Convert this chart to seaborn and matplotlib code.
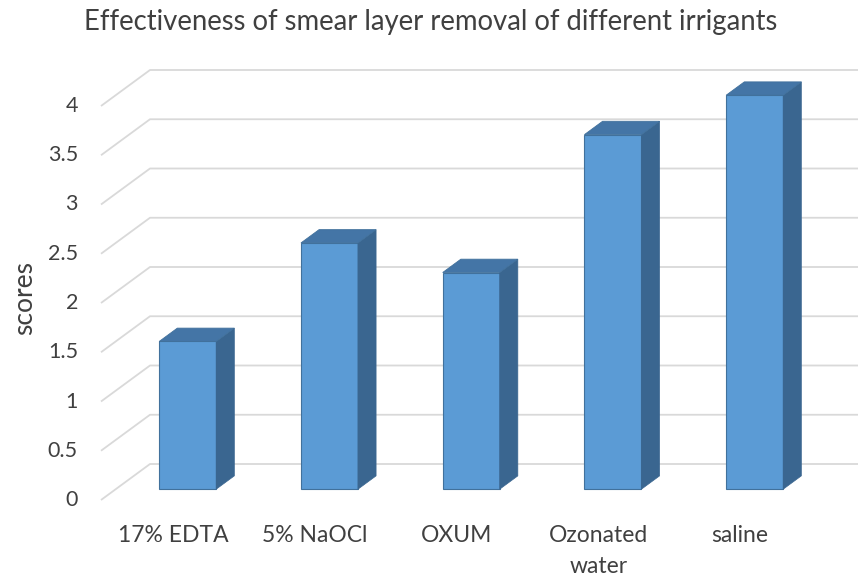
import matplotlib
matplotlib.use("Agg")
import matplotlib.pyplot as plt
import seaborn as sns
import numpy as np
from matplotlib.patches import Polygon

# ---- data ----
categories = ["17% EDTA", "5% NaOCl", "OXUM", "Ozonated\nwater", "saline"]
scores = [1.5, 2.5, 2.2, 3.6, 4.0]
y_ticks = [0, 0.5, 1, 1.5, 2, 2.5, 3, 3.5, 4]
y_tick_labels = ["0", "0.5", "1", "1.5", "2", "2.5", "3", "3.5", "4"]
title = "Effectiveness of smear layer removal of different irrigants"
ylabel = "scores"

# ---- style ----
sns.set_theme(style="white")
plt.rcParams["font.family"] = ["Lato", "DejaVu Sans"]

FRONT = "#5B9BD5"
SIDE = "#3A6690"
TOP = "#4475A6"
EDGE = "#41719C"
GRID = "#D9D9D9"
TEXT = "#404040"

W, H = 858, 578
fig = plt.figure(figsize=(W / 100, H / 100), dpi=100)
ax = fig.add_axes([0, 0, 1, 1])

# pixel geometry -> data scale
PX_CAT = 141.75      # pixels per category
PX_VAL = 98.5        # pixels per value unit
X0_PX = 173.0        # pixel x of category 0 at front
Y0_PX = 500.0        # pixel y of value 0 at front
DX = 49.0 / PX_CAT   # full depth offset in data units
DY = 36.0 / PX_VAL
D_FRONT = 0.30       # depth of bar front face
D_BAR = 0.37         # depth of bar

def px_x(p):
    return (p - X0_PX) / PX_CAT

def px_y(p):
    return (Y0_PX - p) / PX_VAL

# ---- bars (front faces) via seaborn ----
sns.barplot(x=list(range(len(categories))), y=scores, ax=ax, color=FRONT,
            width=57 / PX_CAT, saturation=1, native_scale=True, zorder=3,
            edgecolor=EDGE, linewidth=0.8)

for p in ax.patches:
    x0 = p.get_x() + D_FRONT * DX
    yb = D_FRONT * DY
    w = p.get_width()
    h = p.get_height()
    p.set_x(x0)
    p.set_y(yb)
    ddx, ddy = D_BAR * DX, D_BAR * DY
    side = Polygon([(x0 + w, yb), (x0 + w + ddx, yb + ddy),
                    (x0 + w + ddx, yb + h + ddy), (x0 + w, yb + h)],
                   closed=True, facecolor=SIDE, edgecolor=SIDE, lw=0.5, zorder=3)
    top = Polygon([(x0, yb + h), (x0 + w, yb + h),
                   (x0 + w + ddx, yb + h + ddy), (x0 + ddx, yb + h + ddy)],
                  closed=True, facecolor=TOP, edgecolor=EDGE, lw=0.6, zorder=3)
    ax.add_patch(side)
    ax.add_patch(top)

# ---- gridlines (3D walls) ----
x_left = px_x(101)
x_right = px_x(858)
for v in y_ticks:
    ax.plot([x_left, x_left + DX, x_right], [v, v + DY, v + DY],
            color=GRID, lw=1.3, zorder=1, solid_capstyle="butt")

# ---- tick labels ----
for v, lab in zip(y_ticks, y_tick_labels):
    ax.text(px_x(78), v, lab, ha="right", va="center", fontsize=15.5, color=TEXT)

for i, lab in enumerate(categories):
    ax.text(i, px_y(525), lab, ha="center", va="top", fontsize=16.5,
            color=TEXT, linespacing=1.58)

ax.text(px_x(25), px_y(298), ylabel, rotation=90, ha="center", va="center",
        fontsize=19, color=TEXT)

fig.text(431 / W, 1 - 22 / H, title, ha="center", va="center",
         fontsize=19.8, color=TEXT)

ax.set_xlim(px_x(0), px_x(W))
ax.set_ylim(px_y(H), px_y(0))
ax.axis("off")

fig.savefig("out.png", dpi=100)
